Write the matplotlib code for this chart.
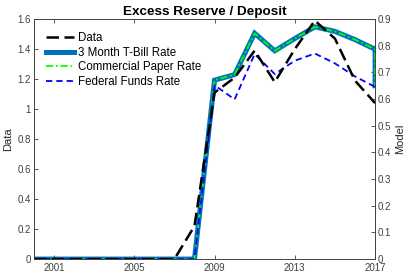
import numpy as np
import matplotlib
matplotlib.use('Agg')
import matplotlib.pyplot as plt
from matplotlib.lines import Line2D

plt.rcParams['font.family'] = ['Liberation Sans', 'DejaVu Sans']

years = list(range(2000, 2018))
data = [0, 0, 0, 0, 0, 0, 0, 0, 0.22, 1.11, 1.21, 1.39, 1.18, 1.40, 1.59, 1.47, 1.19, 1.04]

# model series have one extra end point at 2017 (drop at the right edge)
model_years = years + [2017]
tbill = [0, 0, 0, 0, 0, 0, 0, 0, 0, 0.671, 0.692, 0.847, 0.781, 0.827, 0.871, 0.854, 0.823, 0.787, 0.65]
cpaper = [0, 0, 0, 0, 0, 0, 0, 0, 0, 0.671, 0.692, 0.847, 0.781, 0.827, 0.871, 0.854, 0.823, 0.787, 0.65]
ffunds = [0, 0, 0, 0, 0, 0, 0, 0, 0, 0.652, 0.599, 0.769, 0.694, 0.744, 0.771, 0.734, 0.685, 0.646]

axcol = '#404040'
fig = plt.figure(figsize=(4.09, 2.73), dpi=100)
ax = fig.add_axes([0.083, 0.051, 0.834, 0.879])
ax2 = ax.twinx()

ax2.plot(model_years, tbill, color='#0072BD', lw=3.6, solid_joinstyle='miter')
ax2.plot(model_years, cpaper, color='#00FF00', lw=1.3, ls=(0, (4, 1.5, 1, 1.5)))
ax2.plot(years, ffunds, color='#0000FF', lw=1.3, ls=(0, (3.5, 2.2)))
ax.plot(years, data, color='black', lw=1.8, ls=(0, (5, 2.2)))

ax.set_zorder(ax2.get_zorder() + 1)
ax.patch.set_visible(False)

ax.set_xlim(2000, 2017)
ax.set_ylim(0, 1.6)
ax2.set_ylim(0, 0.9)
ax.set_xticks([2001, 2005, 2009, 2013, 2017])
ax.set_yticks([0, 0.2, 0.4, 0.6, 0.8, 1, 1.2, 1.4, 1.6])
ax.set_yticklabels(['0', '0.2', '0.4', '0.6', '0.8', '1', '1.2', '1.4', '1.6'])
ax2.set_yticks([0, 0.1, 0.2, 0.3, 0.4, 0.5, 0.6, 0.7, 0.8, 0.9])
ax2.set_yticklabels(['0', '0.1', '0.2', '0.3', '0.4', '0.5', '0.6', '0.7', '0.8', '0.9'])

ax.tick_params(axis='x', direction='in', top=True, length=3, width=0.6, labelsize=7, colors=axcol, pad=3)
ax.tick_params(axis='y', direction='in', length=3, width=0.6, labelsize=7, colors=axcol, pad=2)
ax2.tick_params(axis='y', direction='in', length=3, width=0.6, labelsize=7, colors=axcol, pad=2)
for a in (ax, ax2):
    for s in a.spines.values():
        s.set_color(axcol)
        s.set_linewidth(0.6)

ax.set_ylabel('Data', fontsize=8, color='#262626', labelpad=3)
ax2.set_ylabel('Model', fontsize=8, color='#262626', labelpad=3)
ax.set_title('Excess Reserve / Deposit', fontsize=9.7, fontweight='bold', pad=3)

handles = [
    Line2D([], [], color='black', lw=1.8, ls=(0, (5, 2.2))),
    Line2D([], [], color='#0072BD', lw=3.6),
    Line2D([], [], color='#00FF00', lw=1.3, ls=(0, (4, 1.5, 1, 1.5))),
    Line2D([], [], color='#0000FF', lw=1.3, ls=(0, (3.5, 2.2))),
]
labels = ['Data', '3 Month T-Bill Rate', 'Commercial Paper Rate', 'Federal Funds Rate']
ax.legend(handles, labels, loc='upper left', bbox_to_anchor=(0.035, 0.945), frameon=False,
          fontsize=8.3, handlelength=2.4, handletextpad=0.35, labelspacing=0.22,
          borderaxespad=0, borderpad=0)

fig.savefig('out.png', dpi=100)
